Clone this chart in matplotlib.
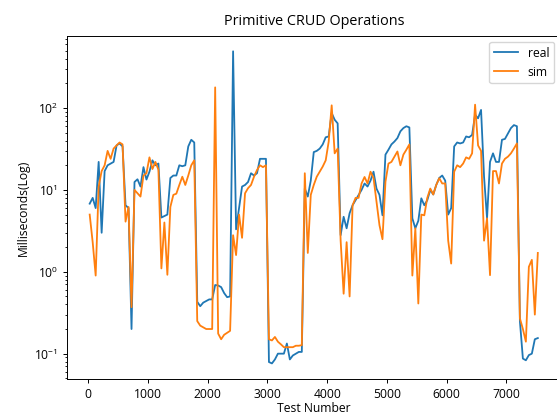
import numpy as np
import matplotlib
matplotlib.use("Agg")
import matplotlib.pyplot as plt

plt.rcParams['font.family'] = ['Open Sans', 'DejaVu Sans']

test_number = np.arange(25, 7526, 50)

real = [
    6.8, 8.0, 6.0, 22, 3.0, 17, 20, 21, 22, 35,
    37, 34, 6.5, 6.0, 0.2, 12.5, 13.5, 11, 19, 13.4,
    16.7, 23, 20, 21, 4.6, 4.8, 5.0, 14, 15, 15,
    20, 19.5, 20, 34, 41, 38, 0.43, 0.38, 0.42, 0.44,
    0.46, 0.46, 0.69, 0.68, 0.65, 0.55, 0.49, 0.5, 494, 3.3,
    6, 11, 11.5, 12.5, 16, 15, 16, 24, 24, 24,
    0.079, 0.076, 0.085, 0.1, 0.1, 0.1, 0.133, 0.085, 0.095, 0.1,
    0.105, 0.105, 10.4, 8.3, 13, 29, 30, 32, 36, 44,
    45, 87, 72, 65, 2.8, 4.7, 3.4, 5.2, 6.5, 7.5,
    8.7, 10, 12, 11, 13, 16.7, 10.4, 8.7, 4.9, 27,
    31, 36, 39, 43, 52, 57, 60, 58, 4.5, 3.4,
    4.2, 7.9, 6.5, 7.5, 10, 8.8, 11.5, 14, 15, 13,
    5, 6, 34, 38, 37, 38, 45, 44, 47, 83,
    75, 95, 14.5, 4.5, 22, 28, 22, 22, 41, 42,
    49, 57, 62, 60, 0.25, 0.087, 0.083, 0.096, 0.1, 0.15,
    0.155,
]

sim = [
    5.0, 2.3, 0.9, 11, 17, 20, 30, 24, 32, 35,
    38, 36, 4.1, 6.2, 0.37, 10, 9.1, 8.3, 15, 16,
    25, 18, 22, 17.7, 1.1, 4.0, 0.92, 6.2, 8.7, 9,
    11.5, 14.5, 11.5, 15, 20, 23, 0.25, 0.22, 0.21, 0.2,
    0.2, 0.2, 179, 0.176, 0.15, 0.17, 0.18, 0.19, 2.8, 1.6,
    5, 2.6, 9.1, 10.5, 11.5, 14.5, 17.5, 20, 19, 20,
    0.15, 0.145, 0.16, 0.14, 0.13, 0.12, 0.12, 0.12, 0.12, 0.125,
    0.125, 0.127, 16, 1.7, 8.7, 11.5, 14.5, 16.7, 19.3, 23,
    39, 108, 28, 32, 2.4, 0.54, 2.3, 0.5, 6.5, 8,
    8, 12, 14.4, 12, 16.7, 14, 7.2, 3.7, 2.5, 12.6,
    21, 22, 25.5, 29.5, 20, 27, 31, 36, 0.9, 3.4,
    0.41, 5, 4.9, 8, 10.4, 8.8, 11.5, 13.9, 12, 12,
    2.4, 1.26, 16.7, 20, 19, 21, 25, 24, 28, 110,
    35, 30, 2.4, 4.5, 0.91, 17, 17, 12, 21, 24,
    25.5, 28, 32, 37, 0.27, 0.2, 0.14, 1.15, 1.4, 0.3,
    1.7,
]

fig = plt.figure(figsize=(5.57, 4.16), dpi=100)
ax = fig.add_axes([0.1208, 0.0889, 0.885, 0.8253])

ax.plot(test_number, real, label="real", color="#1f77b4", linewidth=1.3)
ax.plot(test_number, sim, label="sim", color="#ff7f0e", linewidth=1.3)

ax.set_yscale("log")
ax.set_xticks([0, 1000, 2000, 3000, 4000, 5000, 6000, 7000])

ax.set_title("Primitive CRUD Operations", fontsize=10.4, pad=8)
ax.set_xlabel("Test Number", fontsize=8.7, labelpad=1)
ax.set_ylabel("Milliseconds(Log)", fontsize=8.7, labelpad=3)
ax.tick_params(labelsize=8.7, length=3, width=0.7)
ax.tick_params(which="minor", length=1.7, width=0.6)
for s in ax.spines.values():
    s.set_linewidth(0.7)

ax.legend(loc="upper right", fontsize=8.7)

fig.savefig("out.png", dpi=100)
